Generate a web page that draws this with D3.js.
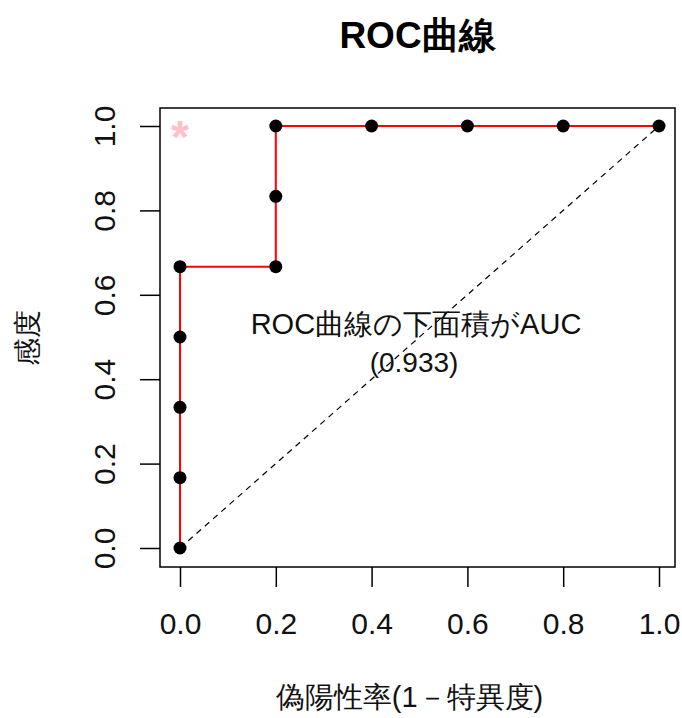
<!DOCTYPE html>
<html><head><meta charset="utf-8">
<script src="https://cdn.jsdelivr.net/npm/d3@7"></script>
<style>body{margin:0;background:#fff}svg{display:block}text{font-family:"Liberation Sans",Arial,sans-serif}</style>
</head><body>
<script>
const fpr = [0, 0, 0, 0, 0, 0.2, 0.2, 0.2, 0.4, 0.6, 0.8, 1.0];
const tpr = [0, 1/6, 2/6, 3/6, 4/6, 4/6, 5/6, 1, 1, 1, 1, 1];
const stepX = [0, 0, 0.2, 0.2, 1];
const stepY = [0, 4/6, 4/6, 1, 1];
const xTicks = [0, 0.2, 0.4, 0.6, 0.8, 1.0];
const yTicks = [0, 0.2, 0.4, 0.6, 0.8, 1.0];
const title = "ROC曲線";
const xTitle = "偽陽性率(1－特異度)";
const yTitle = "感度";
const note1 = "ROC曲線の下面積がAUC";
const note2 = "(0.933)";

const W = 682, H = 718;
const box = {l: 160, r: 675, t: 108, b: 567};
const x = d3.scaleLinear().domain([0, 1]).range([180, 659]);
const y = d3.scaleLinear().domain([0, 1]).range([548, 126]);
const mix = '"Liberation Sans","Noto Sans CJK JP",sans-serif';

const svg = d3.select("body").append("svg").attr("width", W).attr("height", H);

// box
svg.append("rect").attr("x", box.l).attr("y", box.t).attr("width", box.r - box.l).attr("height", box.b - box.t)
  .attr("fill", "none").attr("stroke", "#000").attr("stroke-width", 1.5);

// x axis
const xa = svg.append("g").attr("transform", `translate(0,${box.b})`)
  .call(d3.axisBottom(x).tickValues(xTicks).tickFormat(d3.format(".1f")).tickSize(20).tickPadding(26));
xa.select(".domain").remove();
xa.selectAll("line").attr("stroke", "#000").attr("stroke-width", 1.5);
xa.selectAll("text").attr("font-size", 30).attr("fill", "#111").attr("font-family", '"Liberation Sans",Arial,sans-serif');

// y axis
const ya = svg.append("g").attr("transform", `translate(${box.l},0)`)
  .call(d3.axisLeft(y).tickValues(yTicks).tickFormat(d3.format(".1f")).tickSize(20).tickPadding(0));
ya.select(".domain").remove();
ya.selectAll("line").attr("stroke", "#000").attr("stroke-width", 1.5);
ya.selectAll("text").attr("font-size", 30).attr("fill", "#111")
  .attr("font-family", '"Liberation Sans",Arial,sans-serif')
  .attr("text-anchor", "middle").attr("dy", null).attr("x", null)
  .attr("transform", "translate(-45,0) rotate(-90)");

// diagonal
svg.append("line").attr("x1", x(0)).attr("y1", y(0)).attr("x2", x(1)).attr("y2", y(1))
  .attr("stroke", "#000").attr("stroke-width", 1.2).attr("stroke-dasharray", "6,5");

// ROC step line
svg.append("path").datum(stepX.map((v, i) => [v, stepY[i]]))
  .attr("d", d3.line().x(d => x(d[0])).y(d => y(d[1])))
  .attr("fill", "none").attr("stroke", "#ff0000").attr("stroke-width", 2);

// points
svg.selectAll("circle.pt").data(fpr.map((v, i) => [v, tpr[i]])).join("circle")
  .attr("class", "pt").attr("cx", d => x(d[0])).attr("cy", d => y(d[1])).attr("r", 6.5).attr("fill", "#000");

// pink asterisk
svg.append("text").attr("x", x(0)).attr("y", y(1) + 27).attr("text-anchor", "middle")
  .attr("font-size", 46).attr("font-weight", "bold").attr("fill", "#ffc0cb").text("*");

// annotation
svg.append("text").attr("x", 416).attr("y", 334).attr("text-anchor", "middle")
  .attr("font-size", 29).attr("fill", "#111").attr("font-family", mix).text(note1);
svg.append("text").attr("x", 414).attr("y", 372).attr("text-anchor", "middle")
  .attr("font-size", 28).attr("fill", "#111").text(note2);

// title
svg.append("text").attr("x", (box.l + box.r) / 2).attr("y", 48).attr("text-anchor", "middle")
  .attr("font-size", 37).attr("font-weight", "bold").attr("fill", "#000").attr("font-family", mix).text(title);

// axis titles
svg.append("text").attr("x", (box.l + box.r) / 2 - 8).attr("y", 707).attr("text-anchor", "middle")
  .attr("font-size", 29).attr("fill", "#111").attr("font-family", mix).text(xTitle);
svg.append("text").attr("transform", `translate(37,${(box.t + box.b) / 2}) rotate(-90)`).attr("text-anchor", "middle")
  .attr("font-size", 28).attr("fill", "#111").attr("font-family", mix).text(yTitle);
</script>
</body></html>
